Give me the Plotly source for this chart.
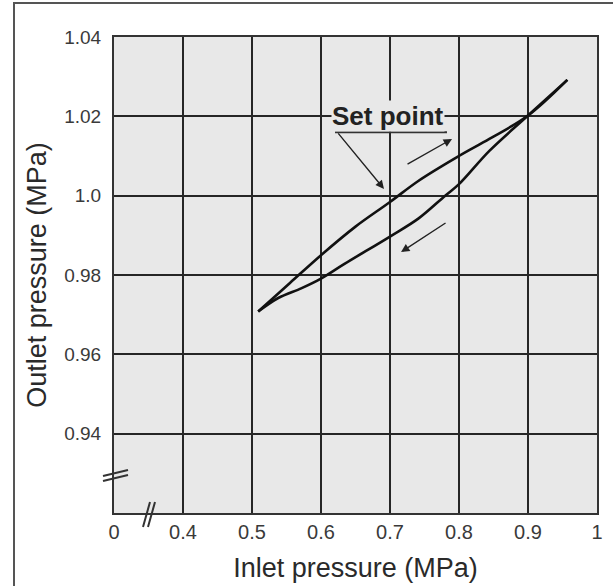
import plotly.graph_objects as go

# Data (inlet MPa -> outlet MPa)
inlet_up = [0.509, 0.555, 0.600, 0.650, 0.700, 0.741, 0.800, 0.844, 0.900, 0.957]
outlet_up = [0.9708, 0.9780, 0.9850, 0.9922, 0.9984, 1.0037, 1.0100, 1.0143, 1.0202, 1.0292]
inlet_down = [0.957, 0.900, 0.844, 0.800, 0.780, 0.741, 0.700, 0.634, 0.600, 0.572, 0.538, 0.509]
outlet_down = [1.0292, 1.0202, 1.0113, 1.0029, 1.0000, 0.9942, 0.9897, 0.9828, 0.9791, 0.9767, 0.9742, 0.9708]

x_tickvals = [0.3, 0.4, 0.5, 0.6, 0.7, 0.8, 0.9, 1.0]
x_ticktext = ["0", "0.4", "0.5", "0.6", "0.7", "0.8", "0.9", "1"]
y_tickvals = [0.94, 0.96, 0.98, 1.00, 1.02, 1.04]
y_ticktext = ["0.94", "0.96", "0.98", "1.0", "1.02", "1.04"]

FONT = "Liberation Sans, Arial, sans-serif"
GRID = "#262626"

fig = go.Figure()
fig.add_trace(go.Scatter(x=inlet_up, y=outlet_up, mode="lines",
                         line=dict(color="#111111", width=2.6, shape="spline", smoothing=1.0),
                         hoverinfo="skip", showlegend=False))
fig.add_trace(go.Scatter(x=inlet_down, y=outlet_down, mode="lines",
                         line=dict(color="#111111", width=2.6, shape="spline", smoothing=1.0),
                         hoverinfo="skip", showlegend=False))

fig.update_layout(
    width=613, height=586,
    margin=dict(l=114, r=16, t=37, b=73),
    paper_bgcolor="white",
    plot_bgcolor="#e8e8e8",
    font=dict(family=FONT, color="#333333"),
    xaxis=dict(range=[0.3, 1.0], tickvals=x_tickvals, ticktext=x_ticktext,
               showgrid=True, gridcolor=GRID, gridwidth=2, automargin=False,
               showline=True, linecolor="#333333", linewidth=2, mirror=True,
               ticks="", ticklen=0, ticklabelstandoff=0, tickfont=dict(size=20, color="#3a3a3a"),
               zeroline=False,
               title=dict(text="Inlet pressure (MPa)", font=dict(size=27, color="#2a2a2a"), standoff=16)),
    yaxis=dict(range=[0.92, 1.04], tickvals=y_tickvals, ticktext=y_ticktext,
               showgrid=True, gridcolor=GRID, gridwidth=2, automargin=False,
               showline=True, linecolor="#333333", linewidth=2, mirror=True,
               ticks="", ticklen=0, ticklabelstandoff=7, tickfont=dict(size=19, color="#3a3a3a"),
               zeroline=False,
               title=dict(text="Outlet pressure (MPa)", font=dict(size=27, color="#2a2a2a"), standoff=10)),
)

W, H, L, T = 483.0, 476.0, 114.0, 37.0
def px(x):
    return (x - L) / W
def py(y):
    return (T + H - y) / H

shapes = [
    # outer frame
    dict(type="rect", xref="paper", yref="paper", x0=px(14), x1=px(640), y0=py(3), y1=py(620),
         line=dict(color="#555555", width=2)),
    # x-axis break marks
    dict(type="line", xref="paper", yref="paper", x0=px(143), y0=py(527), x1=px(150), y1=py(502),
         line=dict(color="#333333", width=2)),
    dict(type="line", xref="paper", yref="paper", x0=px(148), y0=py(527), x1=px(155), y1=py(502),
         line=dict(color="#333333", width=2)),
    # y-axis break marks
    dict(type="line", xref="paper", yref="paper", x0=px(103), y0=py(476), x1=px(128), y1=py(470),
         line=dict(color="#333333", width=2)),
    dict(type="line", xref="paper", yref="paper", x0=px(103), y0=py(481), x1=px(128), y1=py(475),
         line=dict(color="#333333", width=2)),
    # underline of "Set point"
    dict(type="line", xref="x", yref="y", x0=0.6203, x1=0.7826, y0=1.0160, y1=1.0160,
         line=dict(color="#333333", width=2)),
]
fig.update_layout(shapes=shapes)

annotations = [
    dict(x=0.6971, y=1.0202, xref="x", yref="y", text="<b>Set point</b>", showarrow=False,
         font=dict(size=26, color="#222222", family=FONT), bgcolor="#e8e8e8", borderpad=0),
    dict(x=0.6913, y=1.0017, xref="x", yref="y", ax=-47, ay=-57, text="", showarrow=True,
         arrowhead=2, arrowsize=1.2, arrowwidth=1.4, arrowcolor="#222222"),
    dict(x=0.7899, y=1.0143, xref="x", yref="y", ax=-46, ay=26, text="", showarrow=True,
         arrowhead=2, arrowsize=1.2, arrowwidth=1.4, arrowcolor="#222222"),
    dict(x=0.716, y=0.9858, xref="x", yref="y", ax=46, ay=-30, text="", showarrow=True,
         arrowhead=2, arrowsize=1.2, arrowwidth=1.4, arrowcolor="#222222"),
]
fig.update_layout(annotations=annotations)

fig.write_html("out.html", config={"displayModeBar": False},
               post_script="document.body.style.margin='0';")
